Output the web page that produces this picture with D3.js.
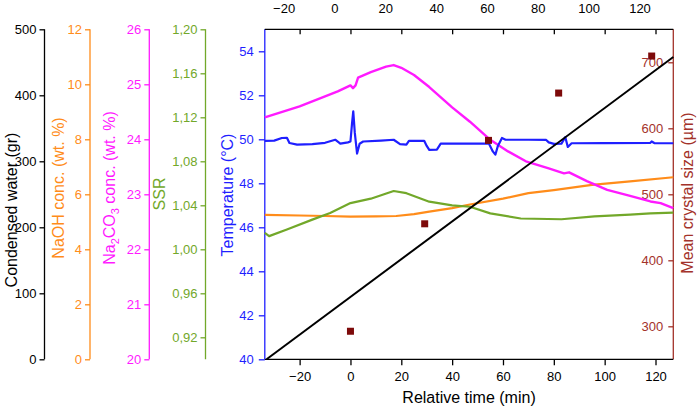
<!DOCTYPE html>
<html>
<head>
<meta charset="utf-8">
<script src="https://cdn.jsdelivr.net/npm/d3@7"></script>
<style>
  body { margin: 0; background: #fff; }
  svg text { font-family: "Liberation Sans", Arial, sans-serif; }
</style>
</head>
<body>
<svg width="699" height="411"></svg>
<script>
// time (min), value pairs
const temperature = [
  [-33.7, 49.93], [-30, 49.94], [-27, 50.06], [-25, 50.07], [-24, 49.83], [-21, 49.76],
  [-15, 49.78], [-10, 49.84], [-6, 49.98], [-4, 49.8], [-1, 49.86], [0, 49.9],
  [0.6, 50.7], [1.1, 51.27], [1.7, 50.3], [2.6, 49.35], [3.6, 49.8], [5, 49.9],
  [12, 49.94], [17, 49.98], [19.5, 49.78], [22, 49.76], [23, 49.93], [29, 49.93],
  [30, 49.7], [31, 49.52], [34, 49.53], [35.5, 49.8], [45, 49.8], [52, 49.8],
  [54.5, 49.8], [56, 49.45], [57, 49.3], [58, 49.7], [59.6, 50.06], [61, 49.98],
  [70, 49.98], [77, 49.97], [78, 49.86], [80, 49.79], [83, 49.8], [84.5, 50.1],
  [85.5, 49.65], [87, 49.82], [100, 49.83], [118, 49.84], [118.5, 49.9], [119.5, 49.83],
  [127, 49.82]
];
const na2co3 = [
  [-33.7, 24.4], [-20, 24.6], [-5, 24.87], [0, 24.98], [1, 24.93], [2, 24.98], [3, 25.12],
  [8, 25.22], [14, 25.32], [17, 25.35], [20, 25.3], [25, 25.17], [31, 24.95], [40, 24.58],
  [47, 24.32], [55, 23.99], [62, 23.78], [69, 23.6], [78, 23.47], [84, 23.38], [86, 23.4],
  [93, 23.24], [101, 23.08], [110, 22.97], [118, 22.87], [122, 22.84], [127, 22.75]
];
const naoh = [
  [-33.7, 5.25], [-20, 5.23], [-10, 5.21], [0, 5.19], [10, 5.2], [18, 5.21], [25, 5.28],
  [31, 5.37], [40, 5.5], [47, 5.63], [60, 5.84], [70, 6.04], [80, 6.15], [95, 6.34],
  [110, 6.47], [127, 6.62]
];
const ssr = [
  [-33.7, 1.015], [-32, 1.012], [-25, 1.018], [-15, 1.027], [-8, 1.033], [0, 1.042],
  [8, 1.046], [17, 1.053], [22, 1.051], [31, 1.0433], [40, 1.04], [47, 1.0387],
  [55, 1.0327], [67, 1.028], [83, 1.0273], [96, 1.03], [110, 1.0315], [118, 1.0327],
  [127, 1.0333]
];
const condensed = [[-33, 0], [127, 458]];
const crystalSize = [[0, 292.5], [29.2, 455.3], [54.3, 581.7], [81.9, 653.4], [118.5, 709.5]];

const timeTicks = [-20, 0, 20, 40, 60, 80, 100, 120];
const tempTicks = [40, 42, 44, 46, 48, 50, 52, 54];
const sizeTicks = [300, 400, 500, 600, 700];
const waterTicks = [0, 100, 200, 300, 400, 500];
const naohTicks = [0, 2, 4, 6, 8, 10, 12];
const na2co3Ticks = [20, 21, 22, 23, 24, 25, 26];
const ssrTicks = [0.92, 0.96, 1.00, 1.04, 1.08, 1.12, 1.16, 1.20];

const svg = d3.select("svg");
const pTop = 29.3, pBottom = 359.3, pLeft = 264.8, pRight = 673.3;

const x = d3.scaleLinear([-33.7, 127], [pLeft, pRight]);
const yT = d3.scaleLinear([40, 55], [pBottom, pTop]);
const yCS = d3.scaleLinear([250, 750], [pBottom, pTop]);
const yW = d3.scaleLinear([0, 500], [pBottom, pTop]);
const yN = d3.scaleLinear([0, 12], [pBottom, pTop]);
const yC = d3.scaleLinear([20, 26], [pBottom, pTop]);
const yS = d3.scaleLinear([0.9, 1.2], [pBottom, pTop]);

const cBlue = "#1f1fff", cMag = "#ff1aff", cOrange = "#ff8c1a", cGreen = "#72a82a",
      cRed = "#a3322a", cSq = "#7d0a0a";

// vertical axis with major + minor ticks
function vAxis(xPos, scale, ticks, minor, color, side, fmt, inward, tick = 5, pad = 3) {
  const g = svg.append("g").attr("transform", `translate(${xPos},0)`);
  const ax = side === "left" ? d3.axisLeft(scale) : d3.axisRight(scale);
  g.append("g").attr("class", "minor")
    .call(d3.axisLeft(scale).tickValues(minor).tickSize(inward ? -3 : 3).tickFormat(""));
  g.call(ax.tickValues(ticks).tickSize(tick).tickPadding(pad).tickFormat(fmt));
  g.selectAll(".domain").remove();
  g.append("line").attr("y1", pTop).attr("y2", pBottom);
  g.selectAll("line").attr("stroke", color).attr("stroke-width", 1.3);
  g.selectAll("text").attr("fill", color).attr("font-size", 13);
  if (inward) {
    g.selectAll(".tick line").filter(function () { return !this.closest(".minor"); }).attr("x2", -5);
    g.selectAll(".tick text").attr("x", -10).attr("text-anchor", "end");
  }
  return g;
}

function title(xPos, yPos, color, text) {
  return svg.append("text")
    .attr("transform", `translate(${xPos},${yPos}) rotate(-90)`)
    .attr("text-anchor", "middle").attr("fill", color).attr("font-size", 16).text(text);
}

// left stacked axes
vAxis(44.5, yW, waterTicks, d3.range(50, 500, 100), "#000", "left", d3.format("d"));
title(16.5, 210, "#000", "Condensed water (gr)");
vAxis(90, yN, naohTicks, d3.range(1, 12, 2), cOrange, "left", d3.format("d"));
title(64, 188, cOrange, "NaOH conc. (wt. %)");
vAxis(149.3, yC, na2co3Ticks, d3.range(20.5, 26, 1), cMag, "left", d3.format("d"));
const t2 = title(115, 188, cMag, "");
t2.append("tspan").text("Na");
t2.append("tspan").text("2").attr("font-size", 11).attr("dy", 4);
t2.append("tspan").text("CO").attr("dy", -4);
t2.append("tspan").text("3").attr("font-size", 11).attr("dy", 4);
t2.append("tspan").text(" conc. (wt. %)").attr("dy", -4);
const commaFmt = d => d3.format(".2f")(d).replace(".", ",");
vAxis(205.5, yS, ssrTicks, d3.range(0.90, 1.2, 0.04), cGreen, "left", commaFmt);
title(165, 194, cGreen, "SSR");

// main plot axes
vAxis(pLeft, yT, tempTicks, d3.range(41, 56, 2), cBlue, "left", d3.format("d"), false, 6, 5);
title(233, 195, cBlue, "Temperature (°C)");
vAxis(pRight, yCS, sizeTicks, d3.range(350, 750, 100), cRed, "right", d3.format("d"), true);
title(693, 193, cRed, "Mean crystal size (µm)");

const gb = svg.append("g").attr("transform", `translate(0,${pBottom})`);
gb.append("g").call(d3.axisBottom(x).tickValues(d3.range(-30, 127, 20)).tickSize(3).tickFormat(""));
gb.call(d3.axisBottom(x).tickValues(timeTicks).tickSize(6).tickPadding(6).tickFormat(d3.format("d")));
gb.selectAll(".domain").remove();
gb.append("line").attr("x1", pLeft).attr("x2", pRight).attr("stroke", "#000");
gb.selectAll("line").attr("stroke-width", 1.3);
gb.selectAll("text").attr("font-size", 13).attr("fill", "#000");

const gt = svg.append("g").attr("transform", `translate(0,${pTop})`);
gt.append("g").call(d3.axisTop(x).tickValues(d3.range(-30, 127, 20)).tickSize(-3).tickFormat(""));
gt.call(d3.axisTop(x).tickValues(timeTicks).tickSize(-5).tickPadding(16).tickFormat(d3.format("d")));
gt.selectAll(".domain").remove();
gt.append("line").attr("x1", pLeft).attr("x2", pRight).attr("stroke", "#000");
gt.selectAll("line").attr("stroke-width", 1.3);
gt.selectAll(".tick text").attr("font-size", 13).attr("fill", "#000").attr("x", -16);

svg.append("text").attr("x", (pLeft + pRight) / 2).attr("y", 403).attr("text-anchor", "middle")
  .attr("font-size", 16).text("Relative time (min)");

// data
const plot = svg.append("g");
function drawLine(data, ys, color, w) {
  plot.append("path").datum(data)
    .attr("fill", "none").attr("stroke", color).attr("stroke-width", w).attr("stroke-linejoin", "round")
    .attr("d", d3.line().x(d => x(d[0])).y(d => ys(d[1])));
}
drawLine(naoh, yN, cOrange, 2.2);
drawLine(ssr, yS, cGreen, 2.2);
drawLine(na2co3, yC, cMag, 2.4);
drawLine(temperature, yT, cBlue, 2.2);
drawLine(condensed, yW, "#000", 2);

plot.selectAll("rect").data(crystalSize).join("rect")
  .attr("x", d => x(d[0]) - 3.5).attr("y", d => yCS(d[1]) - 3.5)
  .attr("width", 7).attr("height", 7).attr("fill", cSq);
</script>
</body>
</html>
